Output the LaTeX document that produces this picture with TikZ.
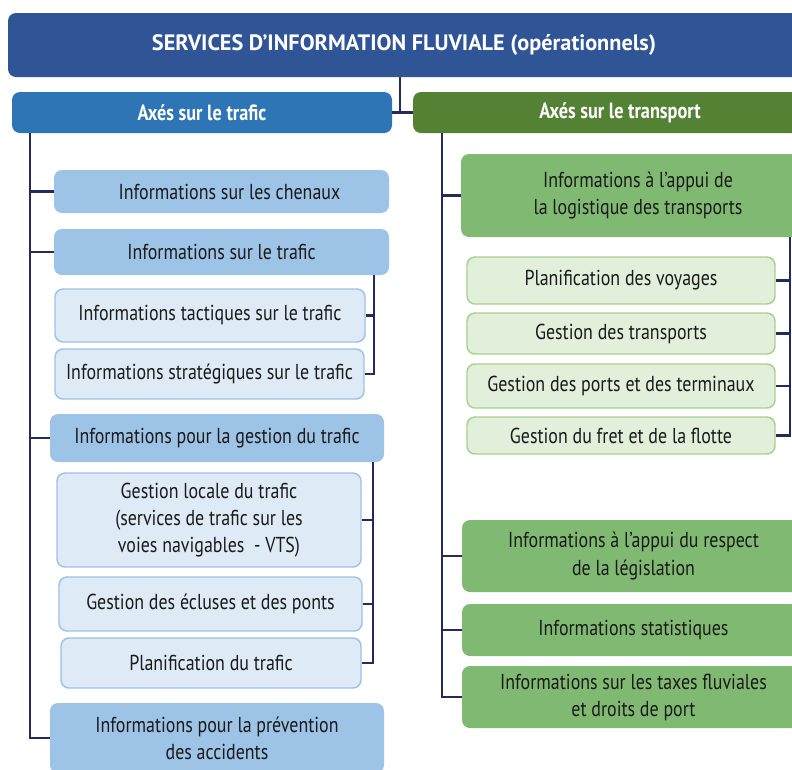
\documentclass[tikz,border=0pt]{standalone}
\usepackage{fontspec}
\setmainfont{PT Sans}[FakeStretch=0.83]
\newfontfamily\titlefont{PT Sans}
\usetikzlibrary{calc}
\definecolor{titleblue}{HTML}{2F5597}
\definecolor{axisblue}{HTML}{2E75B6}
\definecolor{axisgreen}{HTML}{548235}
\definecolor{lblue}{HTML}{9DC3E6}
\definecolor{llblue}{HTML}{DEEBF7}
\definecolor{lgreen}{HTML}{80B972}
\definecolor{llgreen}{HTML}{E2EFDA}
\definecolor{lgreenborder}{HTML}{A9D18E}
\definecolor{navy}{HTML}{222A5E}
\definecolor{txt}{HTML}{1A1A1A}
\tikzset{
  base/.style={rounded corners=6pt, inner sep=0pt, align=center, text=txt,
    font=\fontsize{16.2}{20.3}\selectfont},
  ttl/.style={base, fill=titleblue, text=white, font=\titlefont\fontsize{16.7}{20}\selectfont\bfseries},
  axb/.style={base, fill=axisblue, text=white, font=\fontsize{16.5}{20}\selectfont\bfseries},
  axg/.style={base, fill=axisgreen, text=white, font=\fontsize{16.5}{20}\selectfont\bfseries},
  bone/.style={base, fill=lblue},
  btwo/.style={base, fill=llblue, draw=lblue, line width=1.1pt},
  gone/.style={base, fill=lgreen},
  gtwo/.style={base, fill=llgreen, draw=lgreenborder, line width=1.1pt},
  conn/.style={draw=navy, line width=1.6pt},
}
\newcommand\bx[7]{\node[#2, minimum width={(#5-#3)*0.75pt}, minimum height={(#6-#4)*0.75pt}] (#1) at ({(#3+#5)/2},{(#4+#6)/2}) {#7};}
\begin{document}
\begin{tikzpicture}[x=0.75pt,y=-0.75pt]
\clip (0,0) rectangle (792,769);
\fill[white] (0,0) rectangle (792,769);
% coordinates for trunks and brackets
\coordinate (j) at (400,0);
\coordinate (tl) at (30,0);
\coordinate (tr) at (442,0);
\coordinate (b1) at (374,0);
\coordinate (b2) at (373,0);
\coordinate (b3) at (790,0);
% boxes
\bx{title}{ttl}{8}{13}{800}{77}{SERVICES D’INFORMATION FLUVIALE (opérationnels)}
\bx{axL}{axb}{12}{92}{392}{133}{Axés sur le trafic}
\bx{axR}{axg}{413}{92}{827}{133}{Axés sur le transport}
% left column
\bx{chen}{bone}{54}{170}{389}{213}{\hspace{12pt}Informations sur les chenaux}
\bx{traf}{bone}{54}{229}{389}{275}{Informations sur le trafic}
\bx{tact}{btwo}{55}{289}{365}{342}{Informations tactiques sur le trafic}
\bx{strat}{btwo}{55}{349}{364}{399}{Informations stratégiques sur le trafic}
\bx{gest}{bone}{50}{414}{384}{462}{Informations pour la gestion du trafic}
\bx{loc}{btwo}{57}{473}{361}{567}{Gestion locale du trafic\\(services de trafic sur les\\voies navigables \ - VTS)}
\bx{ecl}{btwo}{59}{577}{362}{631}{Gestion des écluses et des ponts}
\bx{plan}{btwo}{61}{638}{361}{688}{Planification du trafic}
\bx{prev}{bone}{50}{703}{384}{773}{Informations pour la prévention\\des accidents}
% right column
\bx{logi}{gone}{461}{154}{815}{237}{Informations à l’appui de\\la logistique des transports}
\bx{voy}{gtwo}{467}{257}{775}{304}{Planification des voyages}
\bx{trans}{gtwo}{467}{313}{775}{354}{Gestion des transports}
\bx{ports}{gtwo}{467}{364}{775}{408}{Gestion des ports et des terminaux}
\bx{fret}{gtwo}{467}{417}{775}{454}{Gestion du fret et de la flotte}
\bx{legis}{gone}{462}{520}{805}{592}{Informations à l’appui du respect\\de la législation}
\bx{stat}{gone}{462}{604}{805}{656}{Informations statistiques}
\bx{taxe}{gone}{462}{666}{805}{728}{Informations sur les taxes fluviales\\et droits de port}
% connectors top
\draw[conn] (title.south -| j) -- (j |- axL.east);
\draw[conn] (axL.east) -- (axR.west);
% left trunk
\draw[conn] (axL.south -| tl) |- (prev.west);
\draw[conn] (tl |- chen.west) -- (chen.west);
\draw[conn] (tl |- traf.west) -- (traf.west);
\draw[conn] (tl |- gest.west) -- (gest.west);
% left brackets
\draw[conn] (traf.south -| b1) |- (strat.east);
\draw[conn] (b1 |- tact.east) -- (tact.east);
\draw[conn] (gest.south -| b2) |- (plan.east);
\draw[conn] (b2 |- loc.east) -- (loc.east);
\draw[conn] (b2 |- ecl.east) -- (ecl.east);
% right trunk
\draw[conn] (axR.south -| tr) |- (taxe.west);
\draw[conn] (tr |- logi.west) -- (logi.west);
\draw[conn] (tr |- legis.west) -- (legis.west);
\draw[conn] (tr |- stat.west) -- (stat.west);
% right bracket
\draw[conn] (logi.south -| b3) |- (fret.east);
\draw[conn] (b3 |- voy.east) -- (voy.east);
\draw[conn] (b3 |- trans.east) -- (trans.east);
\draw[conn] (b3 |- ports.east) -- (ports.east);
\end{tikzpicture}
\end{document}
